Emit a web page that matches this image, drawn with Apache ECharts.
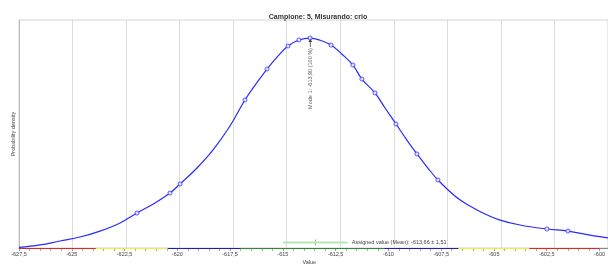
<!DOCTYPE html>
<html>
<head>
<meta charset="utf-8">
<script src="https://cdn.jsdelivr.net/npm/echarts@6/dist/echarts.min.js"></script>
<style>
  html, body { margin: 0; padding: 0; background: #fff; }
  #chart { width: 608px; height: 266px; }
</style>
</head>
<body>
<div id="chart"></div>
<script>
// curva della densità
const curveX = [-627.5, -626.52, -625.59, -624.65, -623.72, -622.78, -621.99, -621.15, -620.45, -619.98,
  -619.19, -618.44, -617.65, -616.95, -616.44, -615.92, -615.41, -614.94, -614.43, -613.91,
  -613.45, -612.93, -612.42, -611.91, -611.49, -610.88, -610.41, -609.90, -609.39, -608.92,
  -608.41, -607.94, -607.15, -606.45, -605.74, -605.04, -604.11, -602.85, -601.87, -600.84, -600.0]
const curveY = [0.0003, 0.0016, 0.0037, 0.0058, 0.0089, 0.0132, 0.0184, 0.0237, 0.0289, 0.0337,
  0.0421, 0.0516, 0.0642, 0.0779, 0.0863, 0.0942, 0.1010, 0.1063, 0.1095, 0.1105,
  0.1094, 0.1068, 0.1020, 0.0963, 0.0889, 0.0816, 0.0737, 0.0653, 0.0568, 0.0495,
  0.0421, 0.0358, 0.0274, 0.0221, 0.0179, 0.0147, 0.0121, 0.0100, 0.0089, 0.0068, 0.0053]

// punti misurati (marcatori)
const pointX = [-621.99, -620.45, -619.98, -616.95, -615.92, -614.94, -614.43, -613.91, -612.93,
  -611.91, -611.49, -610.88, -609.90, -608.92, -607.94, -602.85, -601.87]
const pointY = [0.0184, 0.0289, 0.0337, 0.0779, 0.0942, 0.1063, 0.1095, 0.1105, 0.1068,
  0.0963, 0.0889, 0.0816, 0.0653, 0.0495, 0.0358, 0.0100, 0.0089]

// fasce colorate sull'asse
const bandEdges = [-627.5, -623.86, -620.45, -617.0, -610.18, -606.68, -603.32, -600]
const bandColors = ['#e3261f', '#f2ee3a', '#1e1ebe', '#2b8a2b', '#1e1ebe', '#f2ee3a', '#e3261f']

const assignedMean = -613.66
const assignedU = 1.51
const assignedY = 0.0029
const modeX = -613.90
const modeY = 0.1105

const fmt = v => String(v).replace('.', ',')
const font = "'Liberation Sans', Arial, sans-serif"

const chart = echarts.init(document.getElementById('chart'))

const bandAreas = bandColors.map((c, i) => [
  { xAxis: bandEdges[i], itemStyle: { color: c, opacity: 1 } },
  { xAxis: bandEdges[i + 1] }
])

chart.setOption({
  animation: false,
  title: {
    text: 'Campione: 5, Misurando: crio',
    left: 313,
    textAlign: 'center',
    top: 9,
    textStyle: { fontSize: 7, fontWeight: 'bold', color: '#333', fontFamily: font }
  },
  grid: [
    { left: 19, right: 0, top: 20, bottom: 18, show: true, borderColor: '#d4d4d4', borderWidth: 1 },
    { left: 19, right: 0, top: 248, height: 3 }
  ],
  xAxis: [
    {
      type: 'value', gridIndex: 0, min: -627.5, max: -600, interval: 2.5,
      axisLine: { show: true, onZero: false, lineStyle: { color: '#888', width: 1 } },
      axisTick: { show: false },
      axisLabel: { show: false },
      splitLine: { show: true, lineStyle: { color: '#dcdcdc', width: 1 } }
    },
    {
      type: 'value', gridIndex: 1, min: -627.5, max: -600, interval: 2.5,
      name: 'Value', nameLocation: 'middle', nameGap: 10,
      nameTextStyle: { fontSize: 5.5, color: '#444', fontFamily: font },
      axisLine: { show: false },
      axisTick: { show: true, length: 2, lineStyle: { color: '#999' } },
      minorTick: { show: true, splitNumber: 5, length: 2, lineStyle: { color: '#aaa' } },
      axisLabel: {
        fontSize: 5.5, color: '#444', margin: 2, fontFamily: font,
        showMinLabel: true, showMaxLabel: true,
        formatter: v => fmt(v)
      },
      splitLine: { show: false }
    }
  ],
  yAxis: [
    {
      type: 'value', gridIndex: 0, min: 0, max: 0.12,
      name: 'Probability density', nameLocation: 'middle', nameGap: 3,
      nameTextStyle: { fontSize: 5.5, color: '#444', fontFamily: font },
      axisLine: { show: true, lineStyle: { color: '#bbb' } },
      axisTick: { show: false },
      axisLabel: { show: false },
      splitLine: { show: false }
    },
    {
      type: 'value', gridIndex: 1, min: 0, max: 1, show: false
    }
  ],
  series: [
    {
      type: 'line', xAxisIndex: 1, yAxisIndex: 1, silent: true,
      data: [[-627.5, 0]], symbol: 'none', lineStyle: { width: 0 },
      markArea: { silent: true, itemStyle: { opacity: 1 }, data: bandAreas }
    },
    {
      name: 'densità', type: 'line', smooth: 0.4, symbol: 'none',
      data: curveX.map((x, i) => [x, curveY[i]]),
      lineStyle: { color: '#2a2aff', width: 1.2 }
    },
    {
      name: 'punti', type: 'scatter', symbol: 'circle', symbolSize: 4,
      data: pointX.map((x, i) => [x, pointY[i]]),
      itemStyle: { color: '#fff', borderColor: '#2a2aff', borderWidth: 1 },
      z: 3
    },
    {
      name: 'assegnato', type: 'line', symbol: 'none',
      data: [[assignedMean - assignedU, assignedY], [assignedMean + assignedU, assignedY]],
      lineStyle: { color: '#b6e6b6', width: 2 },
      endLabel: {
        show: true, distance: 4,
        formatter: 'Assigned value (Mean): ' + fmt(assignedMean) + ' ± ' + fmt(assignedU),
        fontSize: 5.5, color: '#444', fontFamily: font
      }
    },
    {
      type: 'scatter', symbol: 'rect', symbolSize: [1, 6],
      data: [[assignedMean, assignedY]],
      itemStyle: { color: '#55b055' }
    },
    {
      type: 'scatter',
      symbol: 'path://M5,0 L10,6 L6,6 L6,16 L4,16 L4,6 L0,6 Z',
      symbolSize: [4, 8], symbolOffset: [0, 5],
      data: [[modeX, modeY]],
      itemStyle: { color: '#111' },
      label: {
        show: true, position: 'bottom', distance: 1, rotate: 90,
        align: 'right', verticalAlign: 'middle',
        formatter: 'Mode 1: ' + fmt(modeX.toFixed(2)) + ' (100 %)',
        fontSize: 5.5, color: '#333', fontFamily: font
      },
      z: 4
    }
  ]
})
</script>
</body>
</html>
